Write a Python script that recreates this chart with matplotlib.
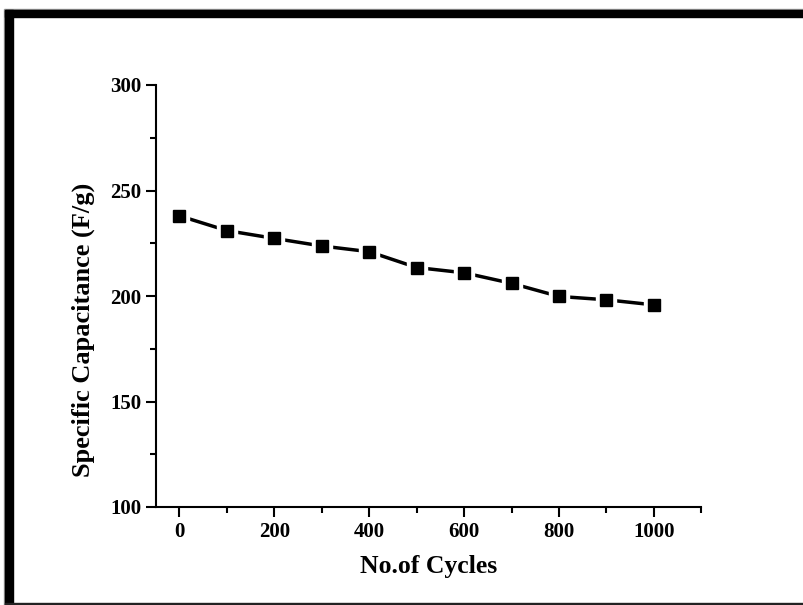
import numpy as np
import matplotlib.pyplot as plt
from matplotlib.patches import Rectangle
from matplotlib.ticker import MultipleLocator

plt.rcParams['font.family'] = ['Liberation Serif', 'DejaVu Serif']
plt.rcParams['font.weight'] = 'bold'

cycles = [0, 100, 200, 300, 400, 500, 600, 700, 800, 900, 1000]
capacitance = [238, 231, 227.3, 223.7, 221, 213.5, 211, 206, 199.8, 198.2, 195.8]

W, H = 804, 605
fig = plt.figure(figsize=(W / 100, H / 100), dpi=100)

# frame of the original picture (cropped on the right)
def px_rect(x0, y0, x1, y1, color):
    fig.patches.append(Rectangle((x0 / W, 1 - y1 / H), (x1 - x0) / W, (y1 - y0) / H,
                                 transform=fig.transFigure, color=color, zorder=0))

px_rect(5, 9, W, 10, '#999999')
px_rect(4, 9, 5, H, '#999999')
px_rect(5, 10, W, 17, 'black')
px_rect(5, 10, 13, H, 'black')
px_rect(5, 603, W, H, '#222222')

ax = fig.add_axes([155.7 / W, 1 - 507 / H, (701.3 - 155.7) / W, (507 - 85) / H])
ax.plot(cycles, capacitance, color='black', lw=2.5, zorder=2)
ax.plot(cycles, capacitance, ls='none', marker='s', ms=14, color='white', zorder=3)
ax.plot(cycles, capacitance, ls='none', marker='s', ms=8.8, color='black', zorder=4)

ax.set_xlim(-50, 1100)
ax.set_ylim(100, 300)
ax.xaxis.set_major_locator(MultipleLocator(200))
ax.xaxis.set_minor_locator(MultipleLocator(100))
ax.yaxis.set_major_locator(MultipleLocator(50))
ax.yaxis.set_minor_locator(MultipleLocator(25))
ax.spines['top'].set_visible(False)
ax.spines['right'].set_visible(False)
for s in ['left', 'bottom']:
    ax.spines[s].set_linewidth(1.5)
ax.tick_params(which='major', length=7, width=1.5, labelsize=15, direction='out')
ax.tick_params(which='minor', length=4.5, width=1.5, direction='out')
for lab in ax.get_xticklabels() + ax.get_yticklabels():
    lab.set_fontweight('bold')

ax.set_xlabel('No.of Cycles', fontsize=18.5, fontweight='bold', labelpad=10)
ax.set_ylabel('Specific Capacitance (F/g)', fontsize=19, fontweight='bold')
ax.yaxis.set_label_coords(-0.111, 0.42)

fig.savefig('out.png', dpi=100)
